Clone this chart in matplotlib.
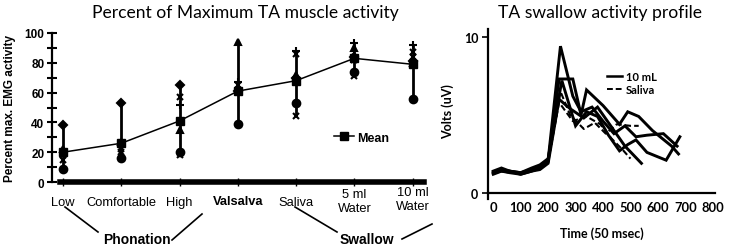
import matplotlib
matplotlib.use("Agg")
import matplotlib.pyplot as plt
from matplotlib.lines import Line2D
import numpy as np

# ---------------- Left chart data ----------------
categories = ["Low", "Comfortable", "High", "Valsalva", "Saliva", "5 ml\nWater", "10 ml\nWater"]
mean_vals = [20, 26, 41, 61, 68, 83, 79]
subj_diamond = [38, 53, 65, 61, 70, 84, 81]
subj_circle = [9, 16, 20, 39, 53, 74, 56]
subj_triangle = [22, 27, 35, 94, 72, 90, 80]
subj_x1 = [15, 20, 18, 65, 44, 71, 87]
subj_plus = [20, 24, 52, 67, 88, 93, 92]
subj_x2 = [18, 22, 57, 62, 86, 82, 84]
y_ticks_left = [0, 20, 40, 60, 80, 100]

# ---------------- Right chart data ----------------
ta_a_t = [0, 30, 60, 100, 140, 170, 200, 245, 290, 320, 360, 400, 440, 480, 520, 560, 620, 670]
ta_a_v = [1.3, 1.5, 1.4, 1.3, 1.5, 1.7, 2.1, 9.4, 6.2, 5.2, 5.5, 4.6, 3.8, 4.3, 3.6, 3.7, 3.8, 3.0]
ta_b_t = [0, 30, 60, 100, 140, 170, 200, 240, 290, 320, 340, 400, 460, 490, 530, 580, 650, 675]
ta_b_v = [1.3, 1.4, 1.4, 1.2, 1.4, 1.6, 2.0, 7.3, 7.3, 5.0, 6.6, 5.6, 4.4, 5.2, 4.9, 4.0, 3.0, 2.5]
ta_c_t = [0, 30, 60, 100, 140, 170, 200, 250, 300, 340, 380, 420, 460, 490, 520, 560, 630, 680]
ta_c_v = [1.4, 1.6, 1.4, 1.3, 1.6, 1.8, 2.2, 7.2, 4.3, 5.2, 4.9, 3.7, 2.7, 3.1, 3.4, 2.6, 2.1, 3.6]
ta_d_t = [0, 30, 60, 100, 140, 170, 200, 240, 280, 330, 380, 420, 480, 540]
ta_d_v = [1.2, 1.4, 1.3, 1.2, 1.4, 1.5, 1.9, 6.0, 5.4, 4.8, 5.5, 4.5, 3.0, 1.9]
sal_a_t = [0, 30, 60, 100, 140, 170, 200, 245, 280, 330, 370, 410, 450, 500, 530]
sal_a_v = [1.3, 1.5, 1.4, 1.3, 1.5, 1.7, 2.0, 6.5, 5.0, 4.1, 4.5, 3.8, 4.4, 4.3, 4.3]
sal_b_t = [0, 30, 60, 100, 140, 170, 200, 240, 290, 340, 390, 430, 470, 500]
sal_b_v = [1.3, 1.4, 1.3, 1.3, 1.5, 1.6, 2.0, 5.8, 4.6, 4.9, 4.4, 3.5, 2.8, 2.2]
x_ticks_right = [0, 100, 200, 300, 400, 500, 600, 700, 800]
y_ticks_right = [0, 10]

W, H = 729, 251
fig = plt.figure(figsize=(W / 100, H / 100), dpi=100)

def fx(px):
    return px / W

def fy(py):
    return 1 - py / H

# ---------------- Left axes ----------------
axL = fig.add_axes([fx(52), fy(183), fx(430) - fx(52), fy(34) - fy(183)])
xi = np.arange(len(categories))
subjects = [subj_diamond, subj_circle, subj_triangle, subj_x1, subj_plus, subj_x2]
markers = ["D", "o", "^", "x", "+", "x"]
sizes = [4, 5.5, 5, 5, 6, 5]
allv = np.array(subjects)
axL.vlines(xi, allv.min(axis=0), allv.max(axis=0), color="black", lw=2, zorder=2)
for vals, m, s in zip(subjects, markers, sizes):
    axL.plot(xi, vals, ls="none", marker=m, ms=s, color="black", mew=1.5, zorder=3)
axL.plot(xi, mean_vals, color="black", lw=1.1, marker="s", ms=5.5, zorder=4, label="Mean")
axL.set_xlim(-0.19, 6.3)
axL.set_ylim(0, 100)
for sp in ["top", "right", "bottom"]:
    axL.spines[sp].set_visible(False)
axL.spines["left"].set_linewidth(1.6)
axL.set_yticks(y_ticks_left)
axL.set_yticks(np.arange(10, 100, 20), minor=True)
axL.tick_params(axis="y", which="both", direction="inout", length=7, width=1.5, pad=2)
for lab in axL.get_yticklabels():
    lab.set_fontfamily("Liberation Sans")
    lab.set_fontweight("bold")
    lab.set_fontsize(8.5)
axL.axhline(0, xmin=0.02, xmax=0.985, color="black", lw=4, clip_on=False, zorder=5)
axL.set_xticks(xi)
axL.set_xticklabels([])
axL.tick_params(axis="x", direction="inout", length=6, width=1)
# category labels
label_y = [203, 203, 203, 202, 203, 202, 200]
for i, c in enumerate(categories):
    wt = "bold" if c == "Valsalva" else "normal"
    fig.text(fx(63 + 58.3 * i), fy(label_y[i]), c, ha="center", va="center",
             fontsize=9.3, family="Liberation Sans", fontweight=wt, linespacing=1.25)
axL.set_ylabel("Percent max. EMG activity", family="Liberation Sans", fontsize=8.5,
               fontweight="bold", labelpad=6)
axL.legend(loc="upper left", bbox_to_anchor=(0.73, 0.38), frameon=False,
           prop={"family": "Liberation Sans", "weight": "bold", "size": 9},
           handlelength=1.6, handletextpad=0.2, borderpad=0)
fig.text(fx(245), fy(13), "Percent of Maximum TA muscle activity", ha="center",
         va="center", fontsize=12.6, family="Lato")
# group annotations
for (x0, y0, x1, y1) in [(65, 208, 98, 233), (202, 215, 172, 241),
                         (295, 208, 337, 233), (432, 225, 402, 240)]:
    fig.add_artist(Line2D([fx(x0), fx(x1)], [fy(y0), fy(y1)], color="black", lw=1.2))
fig.text(fx(137), fy(240), "Phonation", ha="center", va="center", fontsize=10,
         family="Liberation Sans", fontweight="bold")
fig.text(fx(367), fy(240), "Swallow", ha="center", va="center", fontsize=10,
         family="Liberation Sans", fontweight="bold")

# ---------------- Right axes ----------------
axR = fig.add_axes([fx(488), fy(194), fx(715) - fx(488), fy(30) - fy(194)])
for t, v in [(ta_a_t, ta_a_v), (ta_b_t, ta_b_v), (ta_c_t, ta_c_v), (ta_d_t, ta_d_v)]:
    axR.plot(t, v, color="black", lw=2.1, solid_joinstyle="miter")
for t, v in [(sal_a_t, sal_a_v), (sal_b_t, sal_b_v)]:
    axR.plot(t, v, color="black", lw=1.5, ls=(0, (3, 1.5)))
axR.set_xlim(-19, 808)
axR.set_ylim(0, 10.5)
for sp in ["top", "right"]:
    axR.spines[sp].set_visible(False)
axR.spines["left"].set_linewidth(1.6)
axR.spines["bottom"].set_linewidth(1.6)
axR.spines["left"].set_bounds(-0.4, 10.5)
axR.set_xticks(x_ticks_right)
axR.set_yticks(y_ticks_right)
axR.tick_params(axis="x", length=0, pad=6, labelsize=9.3)
axR.tick_params(axis="y", length=4, width=1.2, pad=3, labelsize=9)
for lab in axR.get_xticklabels() + axR.get_yticklabels():
    lab.set_fontfamily("Lato")
    lab.set_fontweight("bold")
axR.set_xlabel("Time (50 msec)", family="Lato", fontweight="bold", fontsize=9, labelpad=9)
axR.set_ylabel("Volts (uV)", family="Lato", fontweight="bold", fontsize=9, labelpad=7)
handles = [Line2D([], [], color="black", lw=1.8),
           Line2D([], [], color="black", lw=1.4, ls=(0, (3, 1.5)))]
axR.legend(handles, ["10 mL", "Saliva"], loc="upper left", bbox_to_anchor=(0.5, 0.78),
           frameon=False, prop={"family": "Lato", "weight": "bold", "size": 8},
           handlelength=1.3, handletextpad=0.4, borderpad=0, labelspacing=0.2)
fig.text(fx(600), fy(13), "TA swallow activity profile", ha="center", va="center",
         fontsize=12.6, family="Lato")

fig.savefig("out.png", dpi=100)
